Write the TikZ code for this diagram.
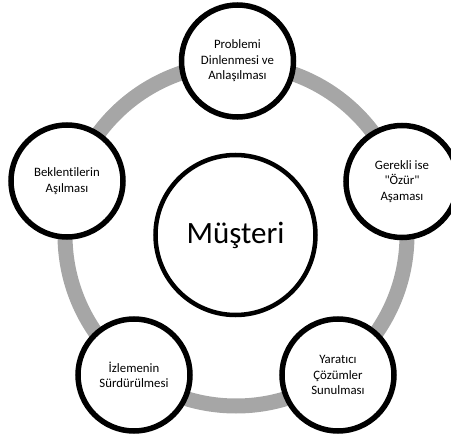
\documentclass[tikz,border=0pt]{standalone}
\usepackage{fontspec}
\setmainfont{Carlito}[Ligatures={TeXOff,NoCommon}]
\begin{document}
\begin{tikzpicture}[x=1pt,y=-1pt,
  ringline/.style={line width=15pt, draw={rgb,255:red,166;green,166;blue,166}},
  smallcirc/.style={circle, draw=black, line width=5.5pt, fill=white, minimum size=112pt, inner sep=0pt, align=center, font=\fontsize{12.8}{15.5}\selectfont},
  bigcirc/.style={circle, draw=black, line width=4.5pt, fill=white, minimum size=160pt, inner sep=0pt, font=\fontsize{31}{36}\selectfont}]
\useasboundingbox (0,0) rectangle (451,439);
\draw[ringline] (236,235) circle (171);
\node[bigcirc] (m) at (235.5,235) {Müşteri};
\node[smallcirc] (a) at (237.5,61) {Problemi\\Dinlenmesi ve\\Anlaşılması};
\node[smallcirc] (b) at (402,181.5) {Gerekli ise\\"Özür"\\Aşaması};
\node[smallcirc] (c) at (338,375) {Yaratıcı\\Çözümler\\Sunulması};
\node[smallcirc] (d) at (134,375) {İzlemenin\\Sürdürülmesi};
\node[smallcirc] (e) at (67,181) {Beklentilerin\\Aşılması};
\end{tikzpicture}
\end{document}
